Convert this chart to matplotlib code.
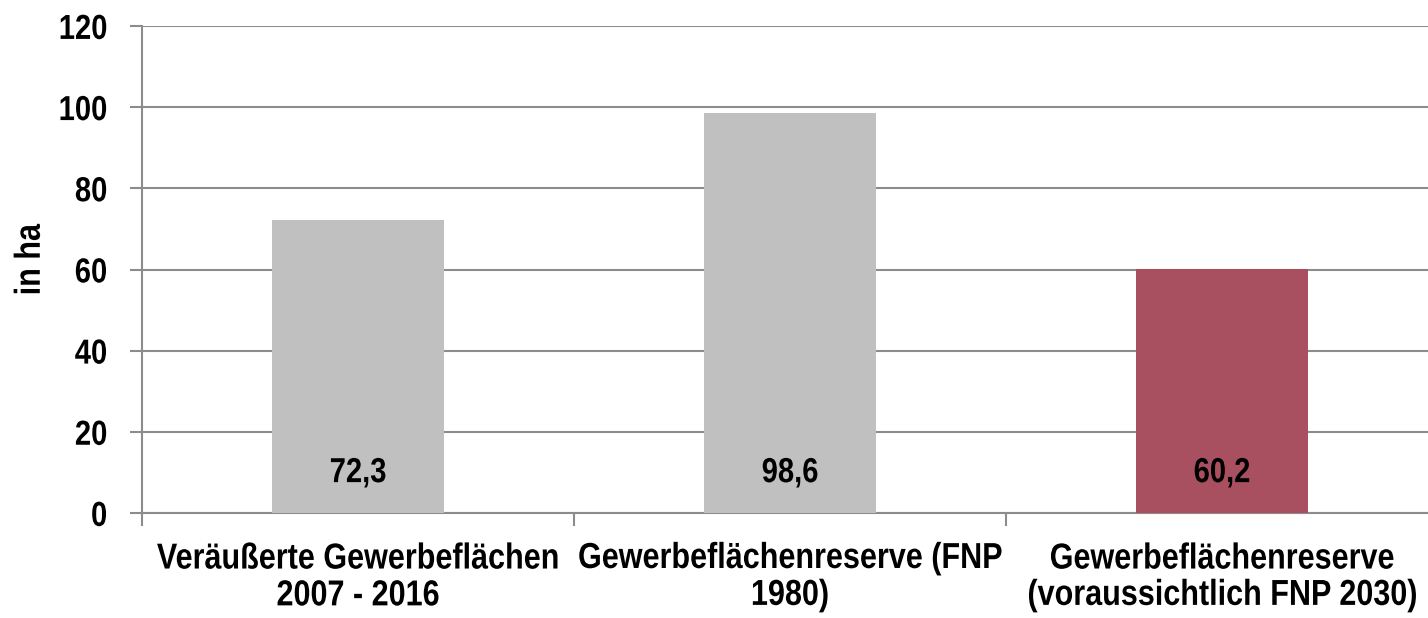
import matplotlib
matplotlib.use("Agg")
import matplotlib.pyplot as plt
from matplotlib.patheffects import AbstractPathEffect
from matplotlib.transforms import Affine2D

categories = ["Veräußerte Gewerbeflächen\n2007 - 2016",
              "Gewerbeflächenreserve (FNP\n1980)",
              "Gewerbeflächenreserve\n(voraussichtlich FNP 2030)"]
values = [72.3, 98.6, 60.2]
value_labels = ["72,3", "98,6", "60,2"]
colors = ["#C0C0C0", "#C0C0C0", "#A8505F"]
yticks = [0, 20, 40, 60, 80, 100, 120]


class Tall(AbstractPathEffect):
    """Stretch glyphs vertically about their own centre, so that a smaller
    Liberation Sans (Arial metrics) looks like Arial Narrow at a larger size,
    while the text box keeps the narrow width."""
    def __init__(self, sy=1.18):
        super().__init__()
        self.sy = sy

    def draw_path(self, renderer, gc, tpath, affine, rgbFace=None):
        ext = tpath.get_extents()
        cy = (ext.y0 + ext.y1) / 2
        t = Affine2D().translate(0, -cy).scale(1, self.sy).translate(0, cy)
        renderer.draw_path(gc, tpath, t + affine, rgbFace)


plt.rcParams['font.family'] = ['Liberation Sans', 'DejaVu Sans']
plt.rcParams['font.weight'] = 'bold'

fig = plt.figure(figsize=(14.28, 6.18), dpi=100)
ax = fig.add_axes([142/1428, 105/618, 1296/1428, 487/618])
grid_c = "#8C8C8C"
x = list(range(len(categories)))
ax.bar(x, values, width=0.40, color=colors, zorder=3)
ax.set_xlim(-0.5, 2.5)
ax.set_ylim(0, 120)
ax.set_yticks(yticks)
ax.set_yticklabels([str(t) for t in yticks], fontsize=21, fontweight='bold')
ax.yaxis.grid(True, color=grid_c, linewidth=1.5, zorder=0)
ax.set_axisbelow(True)
ax.set_xticks(x)
ax.set_xticklabels(categories, fontsize=22, fontweight='bold', linespacing=1.3)
ax.set_xticks([-0.5, 0.5, 1.5, 2.5], minor=True)
ax.tick_params(axis='x', which='major', length=0, pad=22)
ax.tick_params(axis='x', which='minor', length=9, width=1.5, color=grid_c, direction='out')
ax.tick_params(axis='y', length=9, width=1.5, color=grid_c, pad=16)
for s in ['top', 'right']:
    ax.spines[s].set_visible(False)
for s in ['left', 'bottom']:
    ax.spines[s].set_color(grid_c)
    ax.spines[s].set_linewidth(1.5)
yl = ax.set_ylabel("in ha", fontsize=22, fontweight='bold')
ax.yaxis.set_label_coords(-0.075, 0.52)
yl.set_path_effects([Tall(26/22)])
for lbl in ax.get_yticklabels():
    lbl.set_path_effects([Tall(25/21)])
for lbl in ax.get_xticklabels():
    lbl.set_path_effects([Tall(26/22)])
for xi, lab in zip(x, value_labels):
    t = ax.annotate(lab, (xi, 0), xytext=(0, 19), textcoords='offset points',
                    ha='center', va='bottom', fontsize=21, fontweight='bold', zorder=4)
    t.set_path_effects([Tall(25/21)])
fig.savefig("out.png", dpi=100)
